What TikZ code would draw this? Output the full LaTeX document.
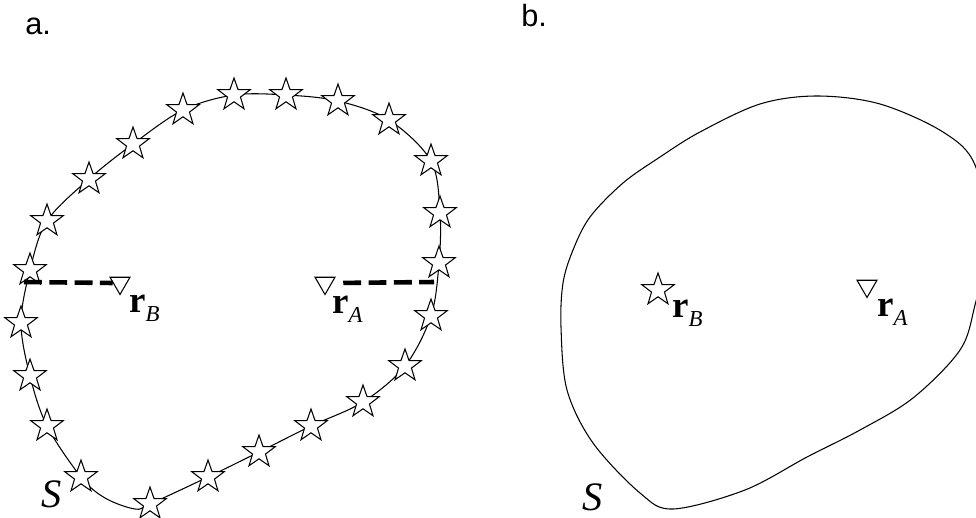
\documentclass[tikz,border=0pt]{standalone}
\usepackage{fontspec}
\setmainfont{Liberation Serif}
\newfontfamily\panelfont{Liberation Sans}
\usetikzlibrary{positioning, shapes.geometric}

\newcommand{\rvec}[1]{{\fontsize{21}{21}\selectfont\bfseries r}\raisebox{-5.5pt}{\fontsize{13}{13}\selectfont\itshape #1}}

\begin{document}
\begin{tikzpicture}[
    x=0.02cm, y=-0.02cm,
    curve/.style={line width=0.6pt},
    src/.style={star, star points=5, star point ratio=2.5, draw, fill=white, line width=0.6pt, inner sep=0pt, minimum size=0.68cm},
    rcv/.style={regular polygon, regular polygon sides=3, shape border rotate=180, draw, line width=0.6pt, inner sep=0pt, minimum size=0.46cm},
    dashline/.style={line width=2.6pt, dash pattern=on 10.2pt off 4.2pt},
    lab/.style={anchor=base west, inner sep=0pt},
    panel/.style={anchor=base west, inner sep=0pt, font=\panelfont\fontsize{17.5}{20}\selectfont}
]
\useasboundingbox (0,0) rectangle (976,517);

% panel a: sources all round S
\draw[curve] plot[smooth cycle, tension=0.55] coordinates {
    (183,110) (234,95) (286,95) (338,101) (389,120) (431,161) (440,213)
    (439,263) (431,316) (405,366) (363,402) (311,426) (259,452) (208,477)
    (150,504) (135,509) (105,498) (81,477) (47,426) (30,376) (21,323)
    (30,270) (47,221) (89,179) (133,144)};

\foreach \p [count=\i] in {(183,110), (234,95), (286,95), (338,101), (389,120),
    (431,161), (440,213), (439,263), (431,316), (405,366), (363,402), (311,426),
    (259,452), (208,477), (150,504), (81,477), (47,426), (30,376), (21,323),
    (30,270), (47,221), (89,179), (133,144)}
    \node[src] (sa\i) at \p {};

\node[rcv] (tB) at (120,283) {};
\node[rcv] (tA) at (325,283) {};
\node[lab] (lB) at (129,312) {\rvec{B}};
\node[lab] (lA) at (332,313) {\rvec{A}};

\coordinate (edgeB) at (24,282);
\coordinate (edgeA) at (434,282);
\draw[dashline] (edgeB) -- (tB.west);
\draw[dashline, shorten <=0.22cm] (tA.east) -- (edgeA);

\node[lab, font=\fontsize{23}{23}\selectfont\itshape] (Sa) at (41,507) {S};
\node[panel] (pa) at (25,35) {a.};

% panel b: one source inside S
\draw[curve] plot[smooth cycle, tension=0.55] coordinates {
    (817,96) (880,104) (943,132) (975,165) (988,240) (975,305) (960,350)
    (913,398) (860,430) (807,457) (745,490) (673,509) (640,493)
    (593,443) (567,390) (561,327) (563,283) (573,250) (590,217) (623,183)
    (660,157) (700,132) (760,104)};

\node[src] (sb) at (658,290) {};
\node[rcv] (tAb) at (867,286) {};
\node[lab] (lBb) at (672,317) {\rvec{B}};
\node[lab] (lAb) at (877,316) {\rvec{A}};

\node[lab, font=\fontsize{23}{23}\selectfont\itshape] (Sb) at (582,510) {S};
\node[panel] (pb) at (521,27) {b.};
\end{tikzpicture}
\end{document}
